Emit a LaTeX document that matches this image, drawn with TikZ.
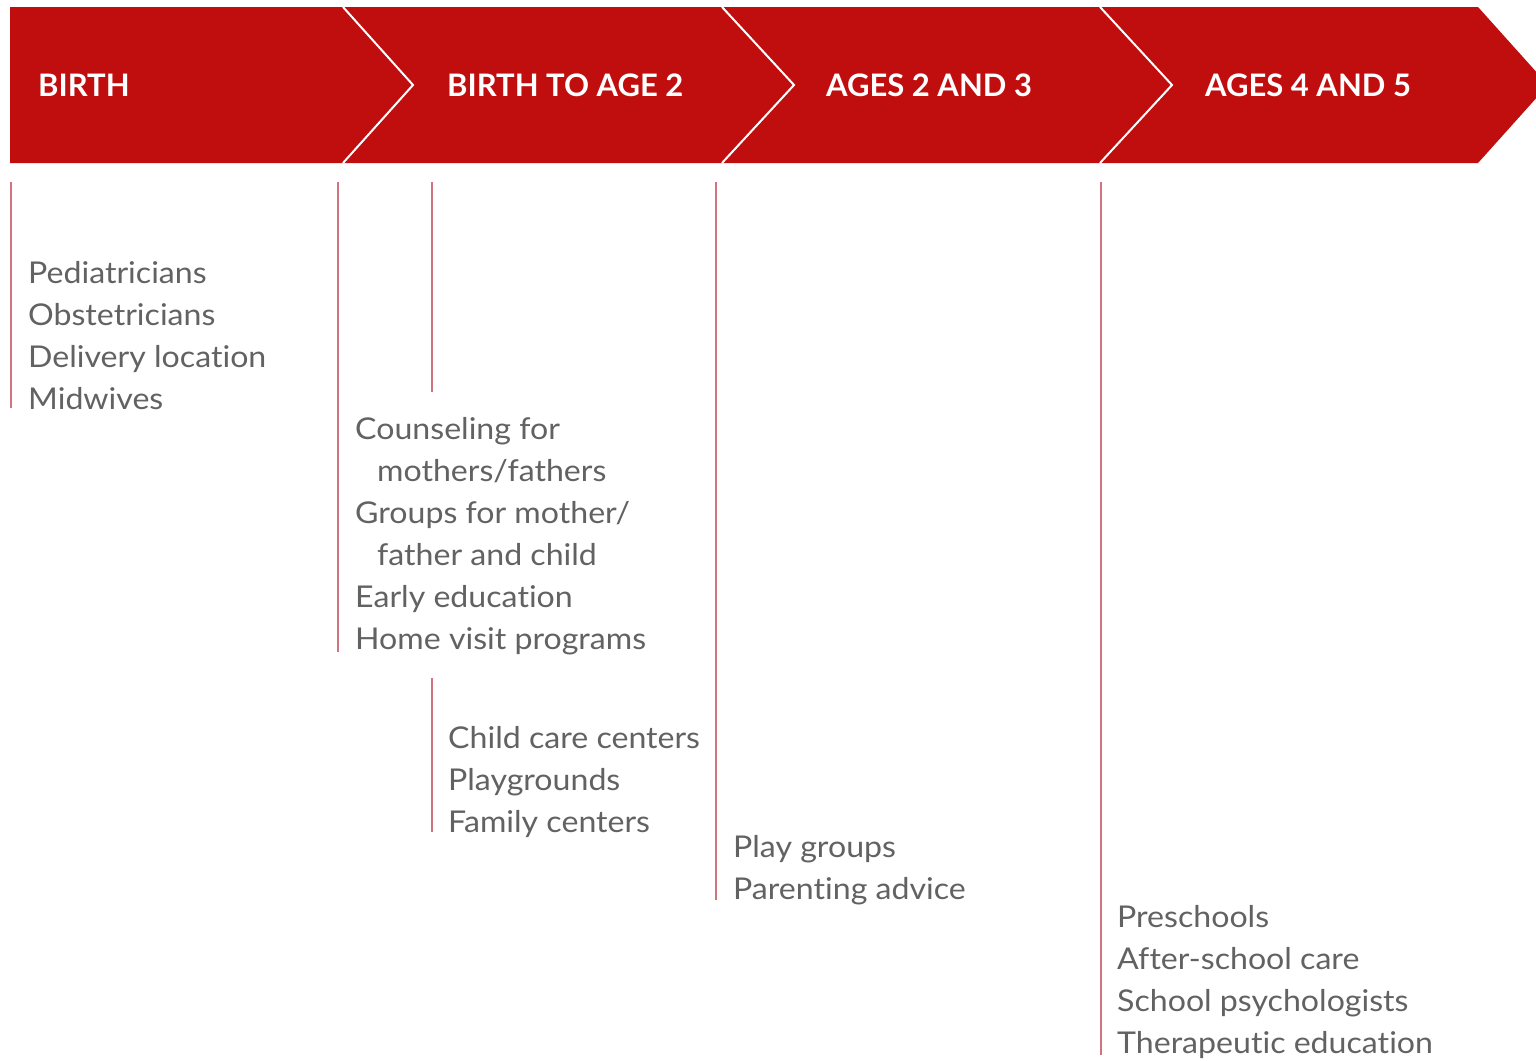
\documentclass[tikz,border=0pt]{standalone}
\usepackage{fontspec}
\setmainfont{Lato}
\newfontfamily\itemfont{Lato}[FakeStretch=1.07,Ligatures=NoCommon]
\definecolor{bannerred}{HTML}{C00E0F}
\definecolor{barred}{HTML}{D07580}
\definecolor{itemgray}{HTML}{626262}
\begin{document}
\begin{tikzpicture}[x=1pt,y=-1pt,
  item/.style={anchor=base west, inner sep=0pt, font=\itemfont\fontsize{30}{30}\selectfont, text=itemgray},
  head/.style={anchor=west, inner sep=0pt, font=\fontsize{31}{31}\selectfont\bfseries, text=white},
  bar/.style={draw=barred, line width=1.5pt},
  sepline/.style={draw=white, line width=2pt}]
\useasboundingbox (0,0) rectangle (1536,1060);
\fill[white] (0,0) rectangle (1536,1060);
% banner
\fill[bannerred] (10,7) -- (1478,7) -- (1548,85) -- (1478,163) -- (10,163) -- cycle;
\draw[sepline] (343,7) -- (413,85) -- (343,163);
\draw[sepline] (722,7) -- (794,85) -- (722,163);
\draw[sepline] (1100,7) -- (1172,85) -- (1100,163);
% headings
\node[head] (h1) at (38,85) {BIRTH};
\node[head] (h2) at (447,85) {BIRTH TO AGE 2};
\node[head] (h3) at (826,85) {AGES 2 AND 3};
\node[head] (h4) at (1205,85) {AGES 4 AND 5};
% bars
\coordinate (b1t) at (11,182);   \coordinate (b1b) at (11,408);
\coordinate (b2t) at (338,182);  \coordinate (b2b) at (338,652);
\coordinate (b3t) at (432,182);  \coordinate (b3b) at (432,392);
\coordinate (b4t) at (432,678);  \coordinate (b4b) at (432,832);
\coordinate (b5t) at (716,182);  \coordinate (b5b) at (716,900);
\coordinate (b6t) at (1101,182); \coordinate (b6b) at (1101,1055);
\foreach \i in {1,...,6} {\draw[bar] (b\i t) -- (b\i b);}
% birth
\node[item] (p1) at (28,283) {Pediatricians};
\node[item] (p2) at (28,325) {Obstetricians};
\node[item] (p3) at (28,367) {Delivery location};
\node[item] (p4) at (28,409) {Midwives};
% birth to age 2
\node[item] (c1) at (355,439) {Counseling for};
\node[item] (c2) at (377,481) {mothers/fathers};
\node[item] (c3) at (355,523) {Groups for mother/};
\node[item] (c4) at (377,565) {father and child};
\node[item] (c5) at (355,607) {Early education};
\node[item] (c6) at (355,649) {Home visit programs};
\node[item] (d1) at (448,748) {Child care centers};
\node[item] (d2) at (448,790) {Playgrounds};
\node[item] (d3) at (448,832) {Family centers};
% ages 2 and 3
\node[item] (e1) at (733,857) {Play groups};
\node[item] (e2) at (733,899) {Parenting advice};
% ages 4 and 5
\node[item] (f1) at (1117,927) {Preschools};
\node[item] (f2) at (1117,969) {After-school care};
\node[item] (f3) at (1117,1011) {School psychologists};
\node[item] (f4) at (1117,1053) {Therapeutic education};
\end{tikzpicture}
\end{document}
